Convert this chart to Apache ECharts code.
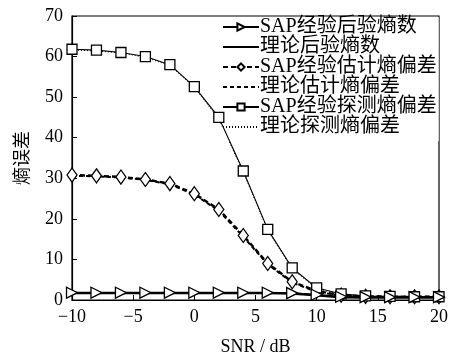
<!DOCTYPE html>
<html>
<head>
<meta charset="utf-8">
<script src="https://cdn.jsdelivr.net/npm/echarts@6/dist/echarts.min.js"></script>
<style>
  html, body { margin: 0; padding: 0; background: #fff; }
  #chart { width: 455px; height: 362px; }
</style>
</head>
<body>
<div id="chart"></div>
<script>
  // SNR (dB)
  const snr = [-10, -8, -6, -4, -2, 0, 2, 4, 6, 8, 10, 12, 14, 16, 18, 20]
  const names = ['SAP经验后验熵数', '理论后验熵数', 'SAP经验估计熵偏差', '理论估计熵偏差', 'SAP经验探测熵偏差', '理论探测熵偏差']
  const sapPost = [1.8, 1.8, 1.8, 1.8, 1.8, 1.8, 1.8, 1.8, 1.8, 1.7, 1.3, 0.8, 0.7, 0.7, 0.7, 0.7]
  const theoPost = [1.7, 1.7, 1.7, 1.7, 1.7, 1.7, 1.7, 1.7, 1.7, 1.6, 1.2, 0.7, 0.6, 0.6, 0.6, 0.6]
  const sapEst = [30.8, 30.6, 30.3, 29.7, 28.7, 26.2, 22.3, 15.9, 9.0, 4.5, 2.2, 1.2, 0.9, 0.8, 0.8, 0.8]
  const theoEst = [30.6, 30.5, 30.2, 29.6, 28.5, 26.0, 22.0, 15.6, 8.8, 4.3, 2.0, 1.1, 0.8, 0.8, 0.8, 0.8]
  const sapDet = [61.8, 61.6, 61.0, 60.0, 58.0, 52.6, 45.0, 31.8, 17.4, 7.9, 3.0, 1.5, 1.0, 0.9, 0.8, 0.8]
  const theoDet = [61.6, 61.4, 60.9, 59.8, 57.8, 52.4, 44.6, 31.5, 17.2, 7.6, 2.8, 1.3, 0.9, 0.8, 0.8, 0.8]

  const pairs = (ys) => snr.map((x, i) => [x, ys[i]])
  const serif = '"Liberation Serif", "Noto Sans CJK SC", serif'
  const markStyle = { color: '#fff', borderColor: '#000', borderWidth: 1.3 }
  // theory curves: no markers, and nothing but the line in the legend
  const hidden = { color: 'rgba(0,0,0,0)', borderColor: 'rgba(0,0,0,0)', borderWidth: 0 }

  const myChart = echarts.init(document.getElementById('chart'))
  myChart.setOption({
    animation: false,
    textStyle: { fontFamily: serif, color: '#000' },
    grid: {
      left: 72,
      right: 16,
      top: 16,
      bottom: 62,
      show: true,
      borderColor: '#000',
      borderWidth: 1.2
    },
    legend: {
      orient: 'vertical',
      left: 222,
      top: 17,
      itemGap: 0,
      itemWidth: 36,
      itemHeight: 9,
      backgroundColor: '#fff',
      padding: [0, 2, 4, 0],
      textStyle: { fontFamily: serif, fontSize: 20, color: '#000', padding: [0, 0, 0, -4], lineHeight: 19.5 },
      data: names
    },
    xAxis: {
      type: 'value',
      min: -10,
      max: 20,
      interval: 5,
      name: 'SNR / dB',
      nameLocation: 'middle',
      nameGap: 38,
      nameTextStyle: { fontFamily: serif, fontSize: 18, color: '#000' },
      axisLine: { onZero: false, lineStyle: { color: '#000', width: 1.2 } },
      axisTick: { inside: true, length: 5, lineStyle: { color: '#000' } },
      axisLabel: {
        fontFamily: serif, fontSize: 18, color: '#000', margin: 8,
        formatter: (v) => String(v).replace('-', '\u2212')
      },
      splitLine: { show: false }
    },
    yAxis: {
      type: 'value',
      min: 0,
      max: 70,
      interval: 10,
      name: '熵误差',
      nameLocation: 'middle',
      nameRotate: 90,
      nameGap: 40,
      nameTextStyle: { fontFamily: serif, fontSize: 18, color: '#000' },
      axisLine: { onZero: false, lineStyle: { color: '#000', width: 1.2 } },
      axisTick: { inside: true, length: 5, lineStyle: { color: '#000' } },
      axisLabel: { fontFamily: serif, fontSize: 18, color: '#000', margin: 9 },
      splitLine: { show: false }
    },
    series: [
      {
        name: names[0],
        type: 'line',
        data: pairs(sapPost),
        symbol: 'triangle',
        symbolRotate: -90,
        symbolSize: [11, 11],
        itemStyle: markStyle,
        lineStyle: { color: '#000', width: 1.5 },
        z: 6
      },
      {
        name: names[1],
        type: 'line',
        data: pairs(theoPost),
        symbol: 'circle',
        showSymbol: false,
        itemStyle: hidden,
        lineStyle: { color: '#000', width: 2.5 },
        z: 5
      },
      {
        name: names[2],
        type: 'line',
        data: pairs(sapEst),
        symbol: 'diamond',
        symbolSize: [10, 14],
        itemStyle: markStyle,
        lineStyle: { color: '#000', width: 2.5, type: [5, 3] },
        z: 4
      },
      {
        name: names[3],
        type: 'line',
        data: pairs(theoEst),
        symbol: 'circle',
        showSymbol: false,
        itemStyle: hidden,
        lineStyle: { color: '#000', width: 2, type: [4, 3] },
        z: 3
      },
      {
        name: names[4],
        type: 'line',
        data: pairs(sapDet),
        symbol: 'rect',
        symbolSize: 10,
        itemStyle: markStyle,
        lineStyle: { color: '#000', width: 1.1 },
        z: 4
      },
      {
        name: names[5],
        type: 'line',
        data: pairs(theoDet),
        symbol: 'circle',
        showSymbol: false,
        itemStyle: hidden,
        lineStyle: { color: '#000', width: 1, type: [1, 2] },
        z: 3
      }
    ]
  })
</script>
</body>
</html>
